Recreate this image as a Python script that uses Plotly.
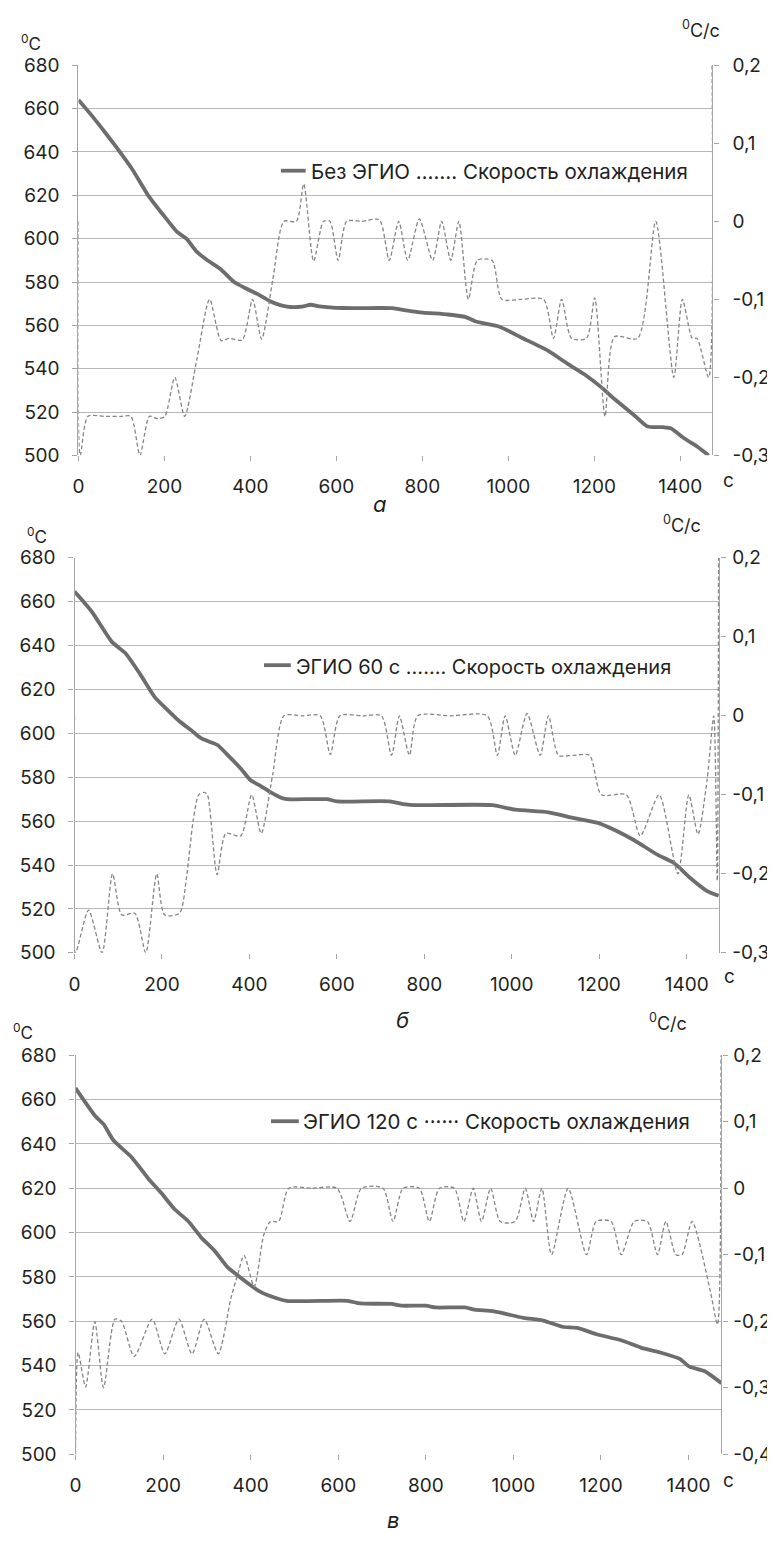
import plotly.graph_objects as go

# page body keeps the browser's default 8px margin, so the figure is offset by 8px
OFF = 8
W, H = 775 - OFF, 1544 - OFF

# ---------------- data ----------------
# Panel а (Без ЭГИО)
t_temp_a = [0, 30, 62, 85, 125, 162, 205, 230, 251, 275, 300, 330, 362, 390, 416, 447, 485, 520, 540,
            560, 614, 700, 730, 766, 801, 860, 901, 924, 978, 1030, 1093, 1139, 1180, 1216, 1247, 1290,
            1324, 1360, 1378, 1408, 1440, 1466]
temp_a = [664, 657, 649, 643, 632, 620, 609, 603, 600, 594, 590, 586, 580, 577, 574.5, 571, 568.6, 568.6,
          569.5, 568.8, 568, 568, 567.9, 566.8, 565.9, 565, 563.8, 561.8, 559.5, 554.4, 548.2, 542.1, 537,
          531.5, 526, 519, 513.3, 513, 512.5, 508, 504, 500]
t_rate_a = [0, 4, 22, 60, 100, 122, 143, 165, 185, 201, 224, 247, 276, 305, 332, 350, 381, 405, 426, 452,
            478, 507, 524, 547, 570, 585, 604, 624, 660, 700, 723, 745, 766, 793, 824, 845, 866, 885, 907,
            928, 962, 985, 1030, 1082, 1105, 1124, 1147, 1182, 1201, 1225, 1247, 1301, 1343, 1385, 1405,
            1428, 1439, 1466, 1474]
rate_a = [0.0, -0.3, -0.25, -0.25, -0.25, -0.25, -0.3, -0.25, -0.253, -0.25, -0.2, -0.25, -0.175, -0.1,
          -0.153, -0.15, -0.152, -0.1, -0.151, -0.075, 0.0, 0.0, 0.048, -0.051, 0.0, 0.0, -0.05, 0.0, 0.0,
          0.002, -0.05, 0.0, -0.05, 0.003, -0.05, 0.0, -0.05, 0.0, -0.1, -0.05, -0.05, -0.1, -0.1, -0.1,
          -0.15, -0.1, -0.15, -0.15, -0.098, -0.25, -0.148, -0.15, 0.0, -0.2, -0.1, -0.15, -0.15, -0.2, 0.2]

# Panel б (ЭГИО 60 с)
t_temp_b = [0, 40, 85, 116, 150, 184, 206, 240, 267, 290, 327, 350, 380, 403, 426, 450, 471, 486, 577,
            600, 721, 751, 789, 955, 1008, 1084, 1140, 1197, 1240, 1280, 1334, 1371, 1409, 1447, 1473]
temp_b = [664.6, 655.3, 641.8, 636.6, 627, 616.4, 612, 605.5, 601.4, 597.7, 594.7, 590.2, 584, 578.6,
          576, 573, 570.8, 570, 570, 569, 569, 567.8, 567.3, 567.3, 565.2, 564, 561.5, 559.2, 555.5,
          551.3, 544.6, 540.9, 534, 528.1, 526]
t_rate_b = [0, 2, 32, 63, 87, 108, 138, 163, 188, 206, 240, 256, 271, 284, 297, 304, 326, 346, 380, 405,
            427, 453, 479, 520, 562, 585, 607, 660, 702, 725, 743, 766, 785, 860, 944, 967, 985, 1008,
            1035, 1065, 1084, 1107, 1140, 1178, 1205, 1262, 1294, 1337, 1380, 1405, 1426, 1447, 1462,
            1470, 1473]
rate_b = [0.0, -0.3, -0.246, -0.3, -0.2, -0.252, -0.25, -0.3, -0.2, -0.252, -0.25, -0.205, -0.134, -0.1,
          -0.097, -0.1, -0.201, -0.149, -0.152, -0.1, -0.149, -0.075, 0.0, 0.0, 0.0, -0.049, 0.0, 0.0,
          0.0, -0.05, 0.0, -0.05, 0.0, 0.0, 0.0, -0.05, 0.0, -0.05, 0.003, -0.05, 0.0, -0.05, -0.05,
          -0.05, -0.1, -0.1, -0.152, -0.1, -0.2, -0.1, -0.15, -0.08, 0.0, -0.209, 0.2]

# Panel в (ЭГИО 120 с)
t_temp_c = [0, 45, 64, 87, 128, 166, 196, 227, 257, 287, 317, 347, 370, 399, 420, 444, 482, 621, 650,
            722, 744, 800, 822, 889, 911, 956, 1023, 1068, 1112, 1146, 1190, 1246, 1291, 1335, 1380, 1402,
            1436, 1475]
temp_c = [665.2, 652.6, 648.9, 641.5, 634, 624.4, 617.8, 610.4, 605.2, 597.8, 591.9, 584.4, 580.7, 576.3,
          573.5, 571.4, 569.2, 569.2, 568, 567.8, 567, 567, 566.2, 566.2, 565.2, 564.4, 561.5, 560.3,
          557.5, 557, 554.1, 551.4, 548.1, 545.9, 543, 539.5, 537.5, 532]
t_rate_c = [0, 6, 23, 44, 64, 90, 105, 134, 175, 204, 236, 266, 294, 326, 355, 370, 385, 408, 430, 445,
            464, 487, 540, 597, 627, 653, 702, 725, 748, 785, 808, 831, 865, 887, 908, 927, 948, 970,
            1004, 1027, 1046, 1065, 1087, 1125, 1167, 1189, 1223, 1246, 1276, 1306, 1329, 1348, 1371,
            1385, 1408, 1450, 1466, 1474]
rate_c = [-0.4, -0.247, -0.299, -0.201, -0.3, -0.197, -0.2, -0.253, -0.197, -0.249, -0.197, -0.249,
          -0.197, -0.249, -0.165, -0.131, -0.101, -0.148, -0.07, -0.05, -0.05, 0.0, 0.0, 0.0, -0.05, 0.0,
          0.0, -0.05, 0.0, 0.0, -0.05, 0.0, 0.0, -0.05, 0.0, -0.05, 0.0, -0.05, -0.05, 0.0, -0.05, 0.0,
          -0.1, 0.0, -0.1, -0.05, -0.05, -0.1, -0.05, -0.05, -0.1, -0.05, -0.1, -0.1, -0.05, -0.156,
          -0.205, 0.2]

x_ticks = [0, 200, 400, 600, 800, 1000, 1200, 1400]
temp_ticks = [500, 520, 540, 560, 580, 600, 620, 640, 660, 680]
rate_ticks_ab = [-0.3, -0.2, -0.1, 0.0, 0.1, 0.2]
rate_labels_ab = ["-0,3", "-0,2", "-0,1", "0", "0,1", "0,2"]
rate_ticks_c = [-0.4, -0.3, -0.2, -0.1, 0.0, 0.1, 0.2]
rate_labels_c = ["-0,4", "-0,3", "-0,2", "-0,1", "0", "0,1", "0,2"]

legend_texts = ["Без ЭГИО ……. Скорость охлаждения",
                "ЭГИО 60 с ……. Скорость охлаждения",
                "ЭГИО 120 с ······ Скорость охлаждения"]
panel_letters = ["а", "б", "в"]

# ---------------- layout helpers ----------------
FONT = "Inter, Liberation Sans, Arial, sans-serif"
TXT = "#231f20"
GRID = "#b7b7b7"
AXL = "#a5a5a5"
TEMP_C = "#6d6d6d"
RATE_C = "#858585"


def px(x):
    return (x - OFF) / W


def py(y):
    return 1 - (y - OFF) / H


panels = [
    # left, right, top(680), bottom(500) in page pixels
    dict(l=73, r=712, t=55, b=451, ttemp=t_temp_a, temp=temp_a, trate=t_rate_a, rate=rate_a,
         rr=[-0.3, 0.2], rt=rate_ticks_ab, rl=rate_labels_ab, rstand=10,
         unitC=(25, 32), unitCs=(700, 18), letter=(377, 500), sx=(728, 477),
         leg_line=(277, 302, 162), leg_text=(305, 163), legsize=20.5),
    dict(l=69, r=719, t=555, b=956, ttemp=t_temp_b, temp=temp_b, trate=t_rate_b, rate=rate_b,
         rr=[-0.3, 0.2], rt=rate_ticks_ab, rl=rate_labels_ab, rstand=3,
         unitC=(31, 532), unitCs=(681, 521), letter=(400, 1024), sx=(729, 980),
         leg_line=(260, 287, 664), leg_text=(290, 666), legsize=20),
    dict(l=70, r=721, t=1060, b=1465, ttemp=t_temp_c, temp=temp_c, trate=t_rate_c, rate=rate_c,
         rr=[-0.4, 0.2], rt=rate_ticks_c, rl=rate_labels_c, rstand=2,
         unitC=(17, 1036), unitCs=(667, 1026), letter=(390, 1532), sx=(728, 1492),
         leg_line=(267, 295, 1127), leg_text=(297, 1127), legsize=20.5),
]

fig = go.Figure()
annotations = []
shapes = []
layout_axes = {}

for i, p in enumerate(panels):
    xa = "x" if i == 0 else f"x{i + 1}"
    ya_n = 2 * i + 1
    yb_n = 2 * i + 2
    ya = "y" if ya_n == 1 else f"y{ya_n}"
    yb = f"y{yb_n}"

    fig.add_trace(go.Scatter(x=p["trate"], y=p["rate"], xaxis=xa, yaxis=yb, mode="lines",
                             line=dict(color=RATE_C, width=1.3, dash="4px,2.5px", shape="spline",
                                       smoothing=0.7),
                             showlegend=False, hoverinfo="skip"))
    fig.add_trace(go.Scatter(x=p["ttemp"], y=p["temp"], xaxis=xa, yaxis=ya, mode="lines",
                             line=dict(color=TEMP_C, width=3.8, shape="spline", smoothing=0.6),
                             showlegend=False, hoverinfo="skip"))

    xdom = [px(p["l"]), px(p["r"])]
    ydom = [py(p["b"]), py(p["t"])]
    xkey = "xaxis" if i == 0 else f"xaxis{i + 1}"
    yakey = "yaxis" if ya_n == 1 else f"yaxis{ya_n}"
    ybkey = f"yaxis{yb_n}"
    tickfont = dict(family=FONT, size=19, color=TXT)
    layout_axes[xkey] = dict(domain=xdom, range=[0, 1475], anchor=ya, tickvals=x_ticks,
                             ticks="outside", ticklen=5, tickcolor=AXL, showgrid=False,
                             zeroline=False, showline=False, ticklabelstandoff=9,
                             tickfont=tickfont)
    layout_axes[yakey] = dict(domain=ydom, range=[500, 680], anchor=xa, tickvals=temp_ticks,
                              ticks="outside", ticklen=5, tickcolor=AXL, showgrid=True,
                              gridcolor=GRID, gridwidth=1.2, zeroline=False, showline=True,
                              linecolor=AXL, linewidth=1.2, ticklabelstandoff=9,
                              tickfont=tickfont)
    layout_axes[ybkey] = dict(domain=ydom, range=p["rr"], anchor=xa, overlaying=ya, side="right",
                              tickvals=p["rt"], ticktext=p["rl"], ticks="outside", ticklen=5,
                              tickcolor=AXL, showgrid=False, zeroline=False, showline=True,
                              linecolor=AXL, linewidth=1.2, ticklabelstandoff=p["rstand"],
                              tickfont=tickfont)

    # unit labels
    annotations.append(dict(x=px(p["unitC"][0]), y=py(p["unitC"][1]), xref="paper", yref="paper",
                            text="<sup>0</sup>C", showarrow=False, xanchor="center", yanchor="middle",
                            font=dict(family=FONT, size=17, color=TXT)))
    annotations.append(dict(x=px(p["unitCs"][0]), y=py(p["unitCs"][1]), xref="paper", yref="paper",
                            text="<sup>0</sup>C/с", showarrow=False, xanchor="center",
                            yanchor="middle", font=dict(family=FONT, size=18, color=TXT)))
    annotations.append(dict(x=px(p["sx"][0]), y=py(p["sx"][1]), xref="paper", yref="paper",
                            text="с", showarrow=False, xanchor="center", yanchor="middle",
                            font=dict(family=FONT, size=19, color=TXT)))
    annotations.append(dict(x=px(p["letter"][0]), y=py(p["letter"][1]), xref="paper", yref="paper",
                            text="<i>" + panel_letters[i] + "</i>", showarrow=False, xanchor="center",
                            yanchor="middle", font=dict(family=FONT, size=22, color=TXT)))
    # legend
    x0, x1, yl = p["leg_line"]
    shapes.append(dict(type="line", xref="paper", yref="paper", x0=px(x0), x1=px(x1), y0=py(yl),
                       y1=py(yl), line=dict(color=TEMP_C, width=3.8)))
    annotations.append(dict(x=px(p["leg_text"][0]), y=py(p["leg_text"][1]), xref="paper",
                            yref="paper", text=legend_texts[i], showarrow=False, xanchor="left",
                            yanchor="middle", font=dict(family=FONT, size=p["legsize"], color=TXT)))

fig.update_layout(width=W, height=H, autosize=False, margin=dict(l=0, r=0, t=0, b=0),
                  paper_bgcolor="white", plot_bgcolor="white", showlegend=False,
                  annotations=annotations, shapes=shapes, **layout_axes)

fig.write_html("out.html")
